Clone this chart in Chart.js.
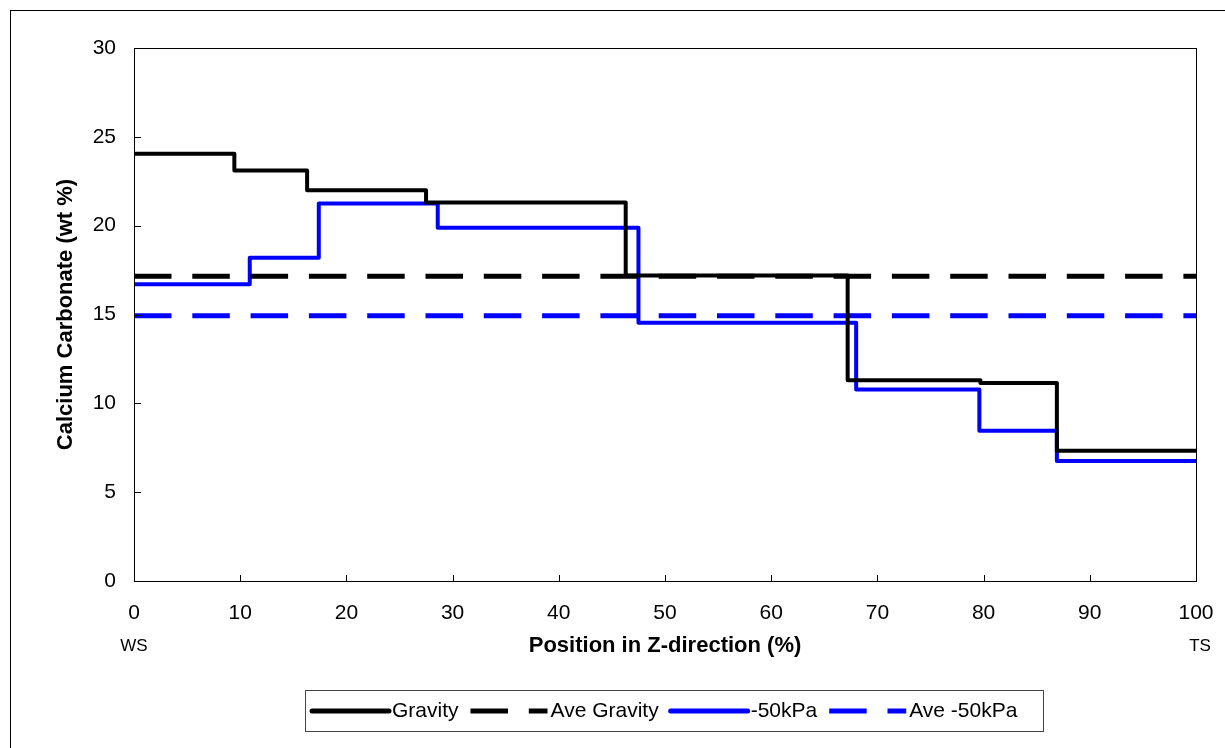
<!DOCTYPE html>
<html>
<head>
<meta charset="utf-8">
<script src="https://cdn.jsdelivr.net/npm/chart.js@4.4.1/dist/chart.umd.min.js"></script>
<style>
  html, body { margin:0; padding:0; background:#fff; }
  #wrap { position:relative; width:1225px; height:748px; overflow:hidden; }
  #frame { position:absolute; left:10px; top:10px; width:1400px; height:900px; border:1.5px solid #000; box-sizing:border-box; }
  canvas { position:absolute; left:0; top:0; }
</style>
</head>
<body>
<div id="wrap">
  <div id="frame"></div>
  <canvas id="chart" width="1225" height="748"></canvas>
</div>
<script>
/* ── 데이터 ── */
const gravityEdges = [0, 9.45, 16.3, 27.5, 46.3, 67.2, 79.7, 86.9, 100];
const gravityVals  = [24.05, 23.1, 22.0, 21.3, 17.2, 11.3, 11.15, 7.33];
const vacuumEdges  = [0, 10.9, 17.4, 28.6, 47.5, 68.0, 79.6, 86.9, 100];
const vacuumVals   = [16.7, 18.2, 21.25, 19.88, 14.53, 10.78, 8.45, 6.75];
const aveGravity   = 17.15;
const aveVacuum    = 14.93;
const xTicks = [0, 10, 20, 30, 40, 50, 60, 70, 80, 90, 100];
const yTicks = [0, 5, 10, 15, 20, 25, 30];
const labels = ['Gravity', 'Ave Gravity', '-50kPa', 'Ave -50kPa'];

const FONT = 'Arial, "Liberation Sans", sans-serif';
const BLUE = '#0000ff';
const DASH = [37.5, 20.8];

/* 계단 데이터 → 점 목록 */
function stepPoints(edges, vals){
  const pts = vals.map((v, i) => ({ x: edges[i], y: v }));
  pts.push({ x: edges[edges.length - 1], y: vals[vals.length - 1] });
  return pts;
}
function flat(v){
  return [{ x: xTicks[0], y: v }, { x: xTicks[xTicks.length - 1], y: v }];
}

/* ── 축 테두리, 안쪽 눈금, 제목, 범례 ── */
const decor = {
  id: 'decor',
  afterDraw(chart){
    const { ctx, chartArea: a, scales } = chart;
    const xs = scales.x, ys = scales.y;
    ctx.save();

    // plot 테두리
    ctx.strokeStyle = '#000';
    ctx.lineWidth = 1;
    ctx.strokeRect(Math.round(a.left) + 0.5, Math.round(a.top) + 0.5,
                   Math.round(a.right - a.left), Math.round(a.bottom - a.top));

    // 안쪽 눈금
    ctx.beginPath();
    xTicks.forEach(t => {
      const px = Math.round(xs.getPixelForValue(t)) + 0.5;
      ctx.moveTo(px, a.bottom); ctx.lineTo(px, a.bottom - 6);
    });
    yTicks.forEach(t => {
      const py = Math.round(ys.getPixelForValue(t)) + 0.5;
      ctx.moveTo(a.left, py); ctx.lineTo(a.left + 7, py);
    });
    ctx.stroke();

    // 축 제목
    ctx.fillStyle = '#000';
    ctx.textAlign = 'center';
    ctx.textBaseline = 'middle';
    ctx.font = 'bold 22px ' + FONT;
    ctx.fillText('Position in Z-direction (%)', (a.left + a.right) / 2, 646);
    ctx.save();
    ctx.translate(66, (a.top + a.bottom) / 2);
    ctx.rotate(-Math.PI / 2);
    ctx.fillText('Calcium Carbonate (wt %)', 0, 0);
    ctx.restore();

    ctx.font = '17px ' + FONT;
    ctx.fillText('WS', xs.getPixelForValue(0), 646);
    ctx.fillText('TS', xs.getPixelForValue(100) + 4, 646);

    // 범례
    const bx = 305, by = 690, bw = 738, bh = 41;
    ctx.strokeStyle = '#444';
    ctx.lineWidth = 1;
    ctx.strokeRect(bx + 0.5, by + 0.5, bw, bh);
    ctx.font = '21px ' + FONT;
    ctx.textAlign = 'left';
    const cy = by + bh / 2 + 0.5;
    let x = 312;
    chart.data.datasets.forEach(ds => {
      ctx.beginPath();
      ctx.strokeStyle = ds.borderColor;
      ctx.lineWidth = 5;
      ctx.setLineDash(ds.borderDash || []);
      ctx.lineCap = ds.borderDash ? 'butt' : 'round';
      ctx.moveTo(x, cy); ctx.lineTo(x + 77, cy);
      ctx.stroke();
      ctx.setLineDash([]);
      ctx.fillStyle = '#000';
      ctx.fillText(ds.label, x + 80, cy);
      x += 80 + ctx.measureText(ds.label).width + 12;
    });
    ctx.restore();
  }
};

const solid = { borderWidth: 4, stepped: 'before', pointRadius: 0, borderJoinStyle: 'round', fill: false };
const dashed = { borderWidth: 5, borderDash: DASH, pointRadius: 0, fill: false };

new Chart(document.getElementById('chart'), {
  type: 'line',
  data: {
    datasets: [
      { ...solid,  label: labels[0], data: stepPoints(gravityEdges, gravityVals), borderColor: '#000' },
      { ...dashed, label: labels[1], data: flat(aveGravity), borderColor: '#000' },
      { ...solid,  label: labels[2], data: stepPoints(vacuumEdges, vacuumVals), borderColor: BLUE },
      { ...dashed, label: labels[3], data: flat(aveVacuum), borderColor: BLUE }
    ]
  },
  options: {
    responsive: false,
    animation: false,
    layout: { padding: { left: 0, top: 48, right: 29, bottom: 0 } },
    plugins: { legend: { display: false }, tooltip: { enabled: false } },
    scales: {
      x: {
        type: 'linear', min: 0, max: 100,
        afterFit: s => { s.height = 167; s.paddingLeft = 0; s.paddingRight = 0; },
        afterBuildTicks: s => { s.ticks = xTicks.map(v => ({ value: v })); },
        grid: { display: false, drawTicks: false },
        border: { display: false },
        ticks: { color: '#000', font: { family: FONT, size: 21 }, padding: 20, maxRotation: 0 }
      },
      y: {
        min: 0, max: 30,
        afterFit: s => { s.width = 134; s.paddingTop = 0; s.paddingBottom = 0; },
        afterBuildTicks: s => { s.ticks = yTicks.map(v => ({ value: v })); },
        grid: { display: false, drawTicks: false },
        border: { display: false },
        ticks: { color: '#000', font: { family: FONT, size: 21 }, padding: 18 }
      }
    }
  },
  plugins: [decor]
});
</script>
</body>
</html>
